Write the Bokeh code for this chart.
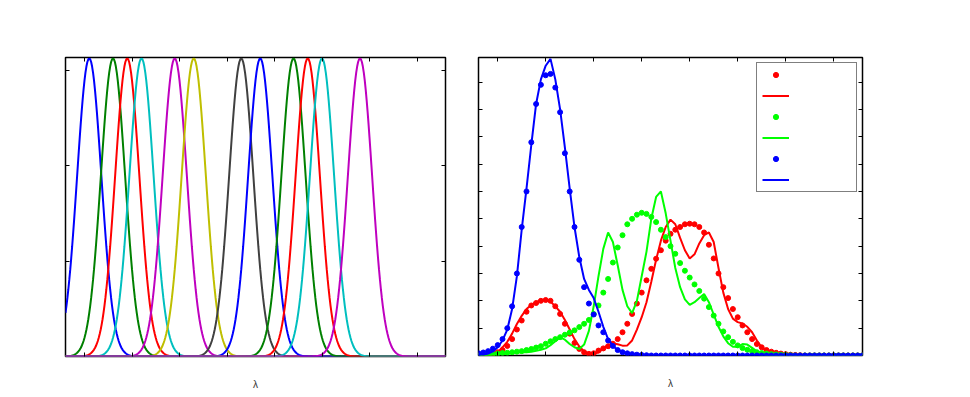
import numpy as np
from bokeh.plotting import figure
from bokeh.models import (LinearAxis, FixedTicker, Legend, LegendItem, Range1d,
                          CustomLabelingPolicy)
from bokeh.layouts import row
from bokeh.embed import file_html
from bokeh.resources import INLINE
from bokeh.core.properties import value

# ---------------- data: left panel (filter responses) ----------------
filter_centers = [405, 430, 445, 460, 495, 515, 565, 585, 620, 635, 650, 690]
filter_sigma = 12.75
filter_colors = ["#0000FF", "#008000", "#FF0000", "#00BFBF", "#BF00BF", "#BFBF00",
                 "#404040", "#0000FF", "#008000", "#FF0000", "#00BFBF", "#BF00BF"]
left_xticks = [400, 450, 500, 550, 600, 650, 700, 750]
left_yticks = [0.01, 0.02, 0.03]

# ---------------- data: right panel (spectra) ----------------
wl = list(range(380, 785, 5))
right_xticks = [400, 450, 500, 550, 600, 650, 700, 750]
right_yticks = [1, 2, 3, 4, 5, 6, 7, 8, 9, 10]

red_dots = [0.0, 0.02, 0.04, 0.07, 0.12, 0.2, 0.35, 0.6, 0.95, 1.28,
            1.6, 1.83, 1.92, 2.0, 2.03, 2.0, 1.8, 1.52, 1.16, 0.8,
            0.46, 0.24, 0.12, 0.06, 0.08, 0.18, 0.26, 0.34, 0.43, 0.6,
            0.85, 1.16, 1.52, 1.9, 2.3, 2.75, 3.17, 3.54, 3.85, 4.2,
            4.45, 4.6, 4.7, 4.8, 4.82, 4.8, 4.7, 4.5, 4.05, 3.55,
            3.0, 2.5, 2.1, 1.7, 1.4, 1.1, 0.85, 0.6, 0.42, 0.3,
            0.2, 0.14, 0.1, 0.07, 0.05, 0.03, 0.02, 0.01] + [0.0] * 13
red_line = [0.0, 0.01, 0.03, 0.06, 0.11, 0.3, 0.5, 0.8, 1.15, 1.45,
            1.7, 1.85, 1.95, 2.02, 2.04, 1.97, 1.8, 1.6, 1.3, 0.95,
            0.6, 0.33, 0.15, 0.06, 0.05, 0.12, 0.25, 0.38, 0.44, 0.41,
            0.36, 0.37, 0.55, 0.95, 1.4, 1.95, 2.7, 3.5, 4.2, 4.7,
            4.97, 4.8, 4.3, 3.85, 3.55, 3.7, 4.1, 4.4, 4.5, 4.15,
            3.2, 2.3, 1.7, 1.35, 1.22, 1.17, 1.05, 0.85, 0.55, 0.3,
            0.16, 0.08, 0.05, 0.03, 0.02, 0.01] + [0.0] * 15
green_dots = [0.0, 0.01, 0.03, 0.05, 0.07, 0.09, 0.1, 0.12, 0.14, 0.16,
              0.2, 0.24, 0.29, 0.34, 0.43, 0.52, 0.6, 0.67, 0.76, 0.84,
              0.92, 1.04, 1.16, 1.3, 1.52, 1.83, 2.3, 2.8, 3.4, 3.95,
              4.4, 4.8, 5.0, 5.15, 5.22, 5.18, 5.07, 4.88, 4.6, 4.33,
              4.0, 3.72, 3.38, 3.1, 2.85, 2.6, 2.36, 2.08, 1.77, 1.46,
              1.16, 0.88, 0.67, 0.5, 0.37, 0.27, 0.21, 0.16, 0.12, 0.09,
              0.07, 0.05, 0.04, 0.03, 0.02, 0.01] + [0.0] * 15
green_line = [0.0, 0.01, 0.02, 0.04, 0.06, 0.08, 0.09, 0.1, 0.11, 0.12,
              0.12, 0.14, 0.17, 0.21, 0.26, 0.38, 0.52, 0.66, 0.58, 0.42,
              0.3, 0.24, 0.4, 0.9, 1.8, 2.9, 3.9, 4.5, 4.15, 3.3,
              2.4, 1.8, 1.55, 2.0, 2.9, 3.8, 5.0, 5.8, 6.0, 5.2,
              4.2, 3.2, 2.5, 2.05, 1.85, 1.95, 2.1, 2.25, 1.95, 1.5,
              1.05, 0.7, 0.45, 0.32, 0.32, 0.42, 0.4, 0.28, 0.15, 0.08,
              0.05, 0.03, 0.02, 0.01] + [0.0] * 17
blue_dots = [0.08, 0.11, 0.16, 0.25, 0.38, 0.6, 1.0, 1.8, 3.0, 4.7,
             6.0, 7.8, 9.2, 9.9, 10.25, 10.3, 9.8, 8.9, 7.4, 6.0,
             4.7, 3.5, 2.5, 1.9, 1.5, 1.1, 0.85, 0.55, 0.35, 0.2,
             0.12, 0.08, 0.05, 0.03, 0.02, 0.01] + [0.0] * 45
blue_line = [0.02, 0.03, 0.07, 0.15, 0.3, 0.55, 0.95, 1.7, 2.9, 4.6,
             6.1, 7.7, 9.2, 10.1, 10.6, 10.85, 10.1, 9.0, 7.6, 6.1,
             4.7, 3.6, 2.8, 2.4, 2.1, 1.6, 1.05, 0.6, 0.35, 0.2,
             0.12, 0.07, 0.04, 0.02, 0.01] + [0.0] * 46

FONT = "Liberation Sans"
no_labels = CustomLabelingPolicy(code="""
    for (const i of indices) { indices.unset(i) }
    return indices
""")


def style(p, xticks, yticks):
    p.add_layout(LinearAxis(), "above")
    p.add_layout(LinearAxis(), "right")
    p.grid.visible = False
    p.outline_line_color = "black"
    p.outline_line_width = 1.5
    p.background_fill_color = "white"
    p.border_fill_color = "white"
    for ax in p.xaxis:
        ax.ticker = FixedTicker(ticks=xticks)
    for ax in p.yaxis:
        ax.ticker = FixedTicker(ticks=yticks)
    for ax in p.axis:
        ax.major_tick_in = 4
        ax.major_tick_out = 0
        ax.major_tick_line_color = "black"
        ax.major_tick_line_width = 1
        ax.minor_tick_line_color = None
        ax.axis_line_color = None
        ax.major_label_policy = no_labels
        ax.major_label_text_font_size = "1px"
        ax.major_label_standoff = 0
    bx = p.below[0]
    bx.axis_label = "λ"
    bx.axis_label_text_font = FONT
    bx.axis_label_text_font_style = "normal"
    bx.axis_label_text_font_size = "10px"
    bx.axis_label_text_color = "#333333"
    bx.axis_label_standoff = 18


# ---------------- left panel ----------------
xs = np.arange(380, 780.5, 1.0)
peak = 1.0 / (filter_sigma * np.sqrt(2 * np.pi))
p1 = figure(width=470, height=392, output_backend="svg", toolbar_location=None,
            x_range=Range1d(380, 780), y_range=Range1d(0, peak * 1.003),
            min_border_left=65, min_border_right=25, min_border_top=56,
            min_border_bottom=30)
style(p1, left_xticks, left_yticks)
for c, col in zip(filter_centers, filter_colors):
    ys = peak * np.exp(-0.5 * ((xs - c) / filter_sigma) ** 2)
    p1.line(xs, ys, line_color=col, line_width=2)

# ---------------- right panel ----------------
p2 = figure(width=492, height=391, output_backend="svg", toolbar_location=None,
            x_range=Range1d(380, 780), y_range=Range1d(0, 10.9),
            min_border_left=8, min_border_right=100, min_border_top=57,
            min_border_bottom=30)
style(p2, right_xticks, right_yticks)

r1 = p2.scatter(wl, red_dots, size=5, color="#FF0000")
r2 = p2.line(wl, red_line, line_color="#FF0000", line_width=2)
r3 = p2.scatter(wl, green_dots, size=5, color="#00FF00")
r4 = p2.line(wl, green_line, line_color="#00FF00", line_width=2)
r5 = p2.scatter(wl, blue_dots, size=5, color="#0000FF")
r6 = p2.line(wl, blue_line, line_color="#0000FF", line_width=2)

legend = Legend(items=[LegendItem(label=value(""), renderers=[r]) for r in (r1, r2, r3, r4, r5, r6)],
                location="top_right", margin=5, padding=5, spacing=8,
                glyph_height=13, glyph_width=27, label_width=57, label_standoff=5,
                label_text_font_size="8px", label_height=8,
                border_line_color="black", border_line_width=1.5,
                background_fill_color="white", background_fill_alpha=1.0)
p2.add_layout(legend)

layout = row(p1, p2)
open("out.html", "w").write(file_html(layout, INLINE))
